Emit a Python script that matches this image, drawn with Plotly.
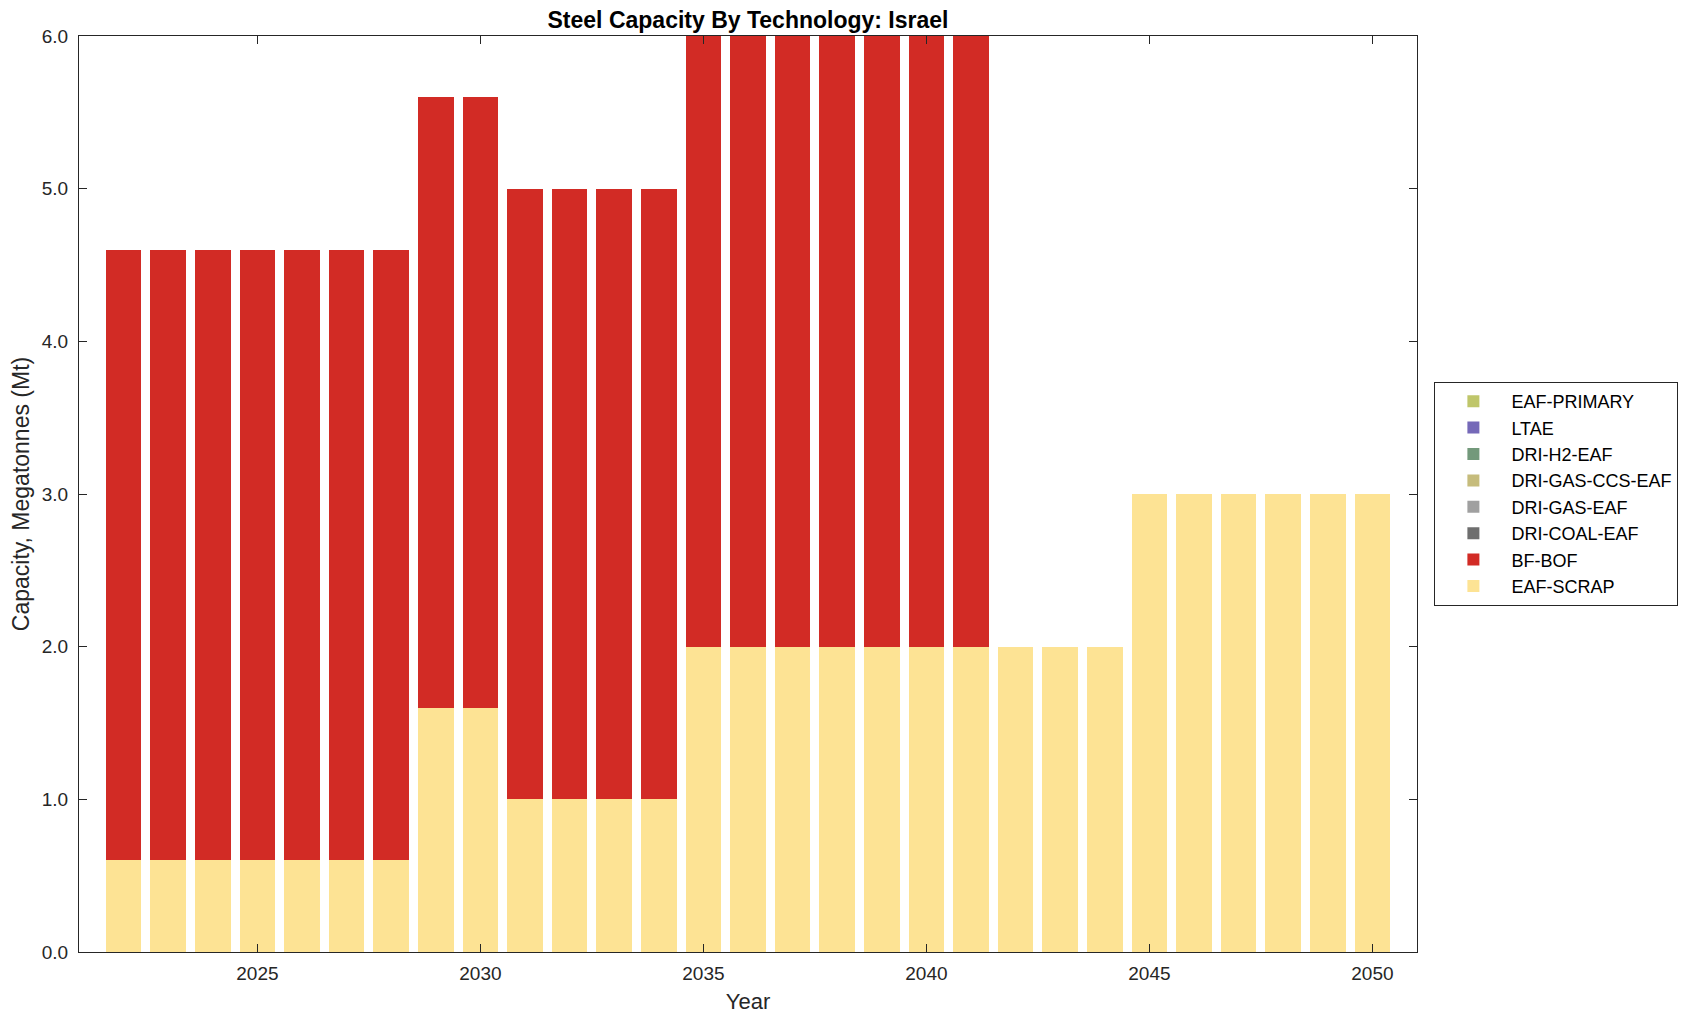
import plotly.graph_objects as go

years = list(range(2022, 2051))

eaf_scrap = [0.6]*7 + [1.6]*2 + [1.0]*4 + [2.0]*10 + [3.0]*6
bf_bof = [4.0]*7 + [4.0]*2 + [4.0]*4 + [4.0]*7 + [0.0]*9
dri_coal_eaf = [0.0]*29
dri_gas_eaf = [0.0]*29
dri_gas_ccs_eaf = [0.0]*29
dri_h2_eaf = [0.0]*29
ltae = [0.0]*29
eaf_primary = [0.0]*29

series = [
    ("EAF-SCRAP", eaf_scrap, "#FDE394"),
    ("BF-BOF", bf_bof, "#D22B25"),
    ("DRI-COAL-EAF", dri_coal_eaf, "#6E6E6E"),
    ("DRI-GAS-EAF", dri_gas_eaf, "#A0A0A0"),
    ("DRI-GAS-CCS-EAF", dri_gas_ccs_eaf, "#C6BC7C"),
    ("DRI-H2-EAF", dri_h2_eaf, "#73997B"),
    ("LTAE", ltae, "#7569B8"),
    ("EAF-PRIMARY", eaf_primary, "#BFC66A"),
]

FONT = "Liberation Sans, Arial, Helvetica, sans-serif"
INK = "#262626"

fig = go.Figure()
for name, vals, col in series:
    fig.add_trace(go.Bar(x=years, y=vals, name=name,
                         marker=dict(color=col, line=dict(width=0))))

axis_common = dict(
    showline=True, linecolor=INK, linewidth=1, mirror="ticks",
    ticks="inside", ticklen=8, tickcolor=INK, tickwidth=1,
    showgrid=False, zeroline=False,
    tickfont=dict(family=FONT, size=19, color=INK),
)

fig.update_layout(
    width=1688, height=1013,
    barmode="stack", bargap=0.2,
    plot_bgcolor="white", paper_bgcolor="white",
    margin=dict(l=63, r=279, t=28, b=68),
    title=dict(text="<b>Steel Capacity By Technology: Israel</b>",
               x=0.5, xref="paper", xanchor="center",
               y=1, yref="paper", yanchor="bottom", pad=dict(b=8),
               font=dict(family=FONT, size=23, color="black")),
    xaxis=dict(range=[2021, 2051], tickvals=[2025, 2030, 2035, 2040, 2045, 2050],
               ticklabelstandoff=4,
               title=dict(text="Year", font=dict(family=FONT, size=22, color=INK), standoff=10),
               **axis_common),
    yaxis=dict(range=[0, 6], tickvals=[0, 1, 2, 3, 4, 5, 6], tickformat=".1f",
               ticklabelstandoff=6,
               title=dict(text="Capacity, Megatonnes (Mt)", font=dict(family=FONT, size=23, color=INK), standoff=6),
               **axis_common),
    legend=dict(traceorder="reversed", x=1.013, xanchor="left", y=0.5, yanchor="middle",
                bordercolor=INK, borderwidth=1, bgcolor="white",
                font=dict(family=FONT, size=18, color="black"),
                itemwidth=66, tracegroupgap=0),
    showlegend=True,
)

fig.write_html("out.html")
